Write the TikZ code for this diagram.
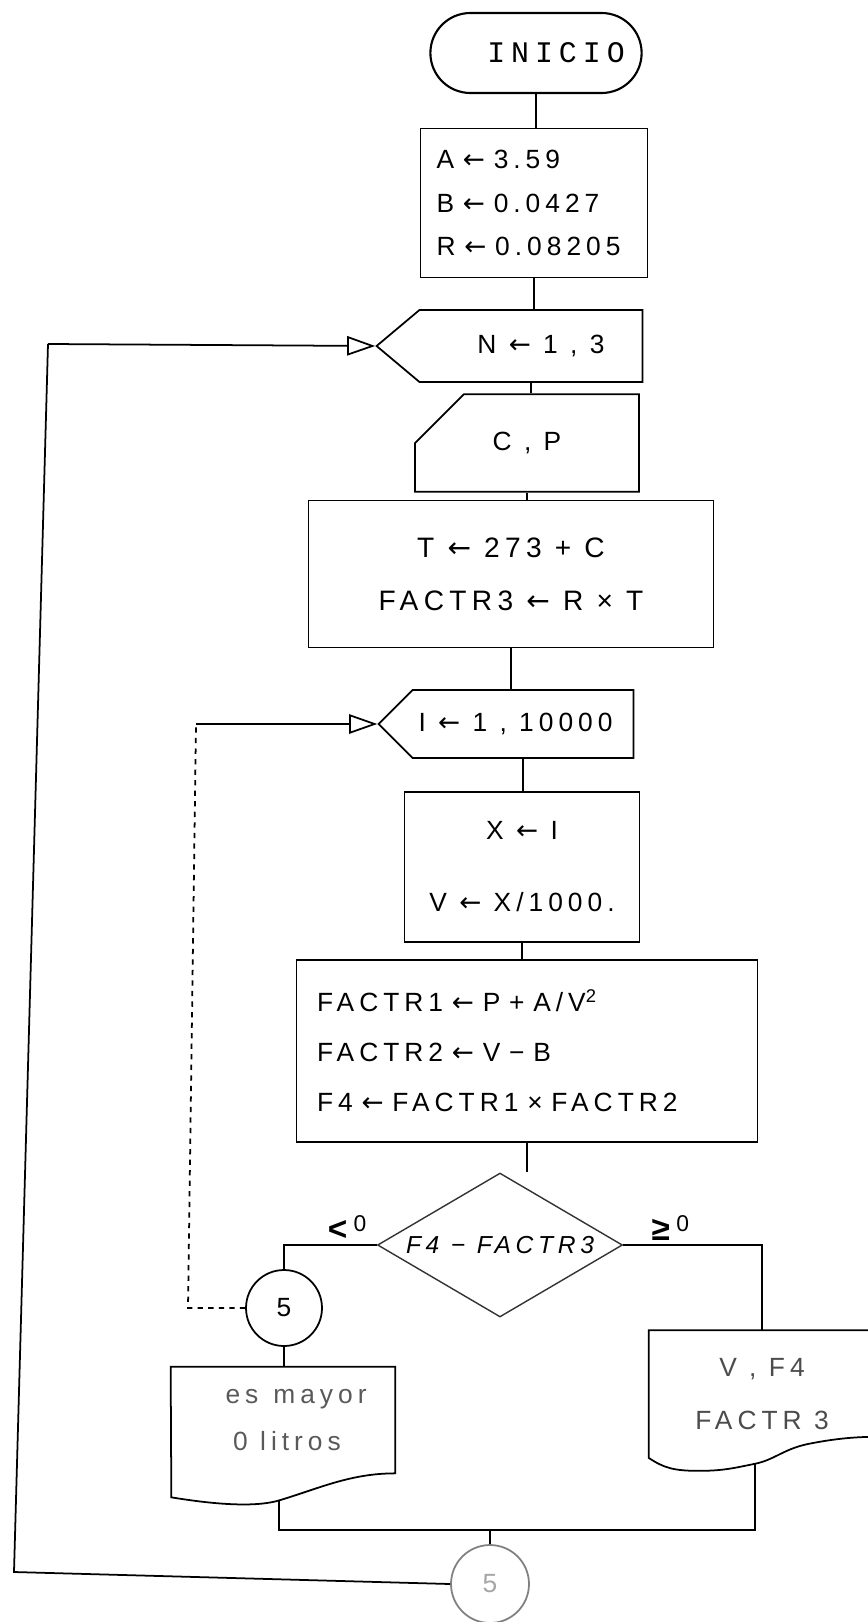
\documentclass[tikz,border=0pt]{standalone}
\usepackage{fontspec}
\setmainfont[LetterSpace=19.0]{Liberation Sans}
\newfontfamily\arrowfont[LetterSpace=19.0]{DejaVu Sans}
\newfontfamily\inifont[LetterSpace=20.0]{Liberation Mono}
\newcommand\asgn{{\arrowfont ←}}
\usetikzlibrary{arrows.meta, shapes.geometric, shapes.misc, shapes.symbols}

\begin{document}
\begin{tikzpicture}[
        x=0.02cm, y=-0.02cm,
        every node/.style={font=\fontsize{15pt}{24.7pt}\selectfont},
        terminal/.style={draw, rounded rectangle, line width=1.2pt, minimum width=4.46cm, minimum height=1.6cm},
        process/.style={draw, rectangle, line width=1pt},
        loopbox/.style={draw, signal, signal to=west, line width=1pt},
        card/.style={draw, chamfered rectangle, chamfered rectangle corners=north west, line width=1pt},
        decision/.style={draw=black!80, diamond, line width=0.8pt, aspect=1.7, inner sep=0pt, font=\fontsize{14pt}{16pt}\selectfont\itshape},
        connector/.style={draw, circle, line width=1pt, minimum size=1.52cm},
        docbox/.style={rectangle, inner sep=0pt},
        line/.style={line width=1pt},
        arrow/.style={line width=1pt, -{Triangle[open, length=16pt, width=11pt]}}
    ]
    \useasboundingbox (0,0) rectangle (867,1622);

    % Start and constants
    \node[terminal, font=\fontsize{17pt}{18pt}\inifont] (Inicio) at (536,53) {\hspace*{0.8cm}INICIO};
    \node[process, minimum width=4.54cm, minimum height=2.98cm, text width=3.9cm, align=left] (Constants) at (534,203) {A \asgn\ 3.59\\B \asgn\ 0.0427\\R \asgn\ 0.08205};

    % Outer loop and reading
    \node[loopbox, minimum width=5.32cm, minimum height=1.44cm, signal pointer angle=80] (LoopN) at (531,346) {\hspace*{0.4cm}N \asgn\ 1 , 3};
    \node[card, minimum width=4.48cm, minimum height=1.4cm, chamfered rectangle xsep=0.58cm, chamfered rectangle ysep=0.64cm] (ReadCP) at (527,443) {C , P};
    \node[process, minimum width=8.1cm, minimum height=2.94cm, align=center, font=\fontsize{16pt}{30pt}\selectfont] (CalcT) at (511,574) {T \asgn\ 273 + C\\FACTR3 \asgn\ R × T};

    % Inner loop
    \node[loopbox, minimum width=5.1cm, minimum height=1.36cm, signal pointer angle=90] (LoopI) at (523,724) {I \asgn\ 1 , 10000\hspace*{0.3cm}};
    \node[process, minimum width=4.7cm, minimum height=3cm, align=center, font=\fontsize{15pt}{41pt}\selectfont] (CalcV) at (522,867) {X \asgn\ I\\V \asgn\ X/1000.};
    \node[process, minimum width=9.22cm, minimum height=3.64cm, text width=8.4cm, align=left, font=\fontsize{15pt}{28.5pt}\selectfont] (CalcF) at (527,1051) {FACTR1 \asgn\ P + A/V\textsuperscript{2}\\FACTR2 \asgn\ V − B\\F4 \asgn\ FACTR1 × FACTR2};

    % Test
    \node[decision, minimum width=4.9cm, minimum height=2.88cm] (Test) at (500,1245) {F4 − FACTR3};
    \node[connector] (ConnA) at (284,1308) {5};
    \node[docbox, minimum width=4.48cm, minimum height=2.12cm, text width=4.2cm, align=left, text=black!65, font=\fontsize{15pt}{27pt}\selectfont] (MsgDoc) at (283,1420) {\hspace*{0.95cm}es\hspace{0.3cm}mayor\\\hspace*{1.1cm}0\hspace{0.25cm}litros};
    \node[docbox, minimum width=4.52cm, minimum height=2.54cm, align=center, text=black!70, font=\fontsize{15pt}{30pt}\selectfont] (OutDoc) at (762,1394) {V , F4\\FACTR 3};
    \node[connector, minimum size=1.56cm, draw=black!50, text=black!35] (ConnB) at (490,1584) {5};

    % Documents
    \draw[line] (MsgDoc.south east) .. controls +(-45,0) and +(40,-12) .. ++(-116,27) coordinate (MsgDrop)
        .. controls +(-30,9) and +(25,4) .. ++(-108,-3) -- (MsgDoc.north west) -- (MsgDoc.north east) -- cycle;
    \draw[line] (OutDoc.south west) .. controls +(15,10) and +(-25,0) .. ++(50,13)
        .. controls +(25,0) and +(-20,4) .. ++(56,-7) coordinate (OutDrop)
        .. controls +(20,-4) and +(-25,5) .. ++(54,-20)
        .. controls +(25,-5) and +(-20,0) .. ++(66,-7) -- (OutDoc.north east) -- (OutDoc.north west) -- cycle;

    % Main flow
    \draw[line] (Inicio.south) -- (Inicio.south |- Constants.north);
    \draw[line] (Constants.south) -- (Constants.south |- LoopN.north);
    \draw[line] (LoopN.south) -- (LoopN.south |- ReadCP.north);
    \draw[line] (ReadCP.south) -- (ReadCP.south |- CalcT.north);
    \draw[line] (CalcT.south) -- (CalcT.south |- LoopI.north);
    \draw[line] (LoopI.south) -- (LoopI.south |- CalcV.north);
    \draw[line] (CalcV.south) -- (CalcV.south |- CalcF.north);
    \draw[line] (CalcF.south) -- (CalcF.south |- Test.north);

    % Branches
    \draw[line] (Test.west) -| node[pos=0.16, above, inner sep=2pt, font=\fontsize{19pt}{20pt}\selectfont] {\textbf{<}\raisebox{5pt}{\fontsize{13pt}{13pt}\selectfont 0}} (ConnA.north);
    \draw[line] (Test.east) -| node[pos=0.17, above, inner sep=2pt, font=\fontsize{19pt}{20pt}\selectfont] {\textbf{≥}\raisebox{5pt}{\fontsize{13pt}{13pt}\selectfont 0}} (OutDoc.north);
    \draw[line] (ConnA.south) -- (ConnA.south |- MsgDoc.north);

    % Merge
    \coordinate (Merge) at (490,1530);
    \draw[line] (MsgDrop) |- (Merge);
    \draw[line] (OutDrop) |- (Merge);
    \draw[line] (Merge) -- (ConnB.north);

    % Loop returns
    \coordinate (OuterLow) at (14,1572);
    \coordinate (OuterTop) at (48,344);
    \draw[line] (ConnB.west) -- (OuterLow) -- (OuterTop);
    \draw[arrow] (OuterTop) -- (LoopN.west);
    \coordinate (InnerLow) at (188,1308);
    \coordinate (InnerTop) at (196,724);
    \draw[line, dashed] (ConnA.west) -- (InnerLow) -- (InnerTop);
    \draw[arrow] (InnerTop) -- (LoopI.west);

\end{tikzpicture}
\end{document}
